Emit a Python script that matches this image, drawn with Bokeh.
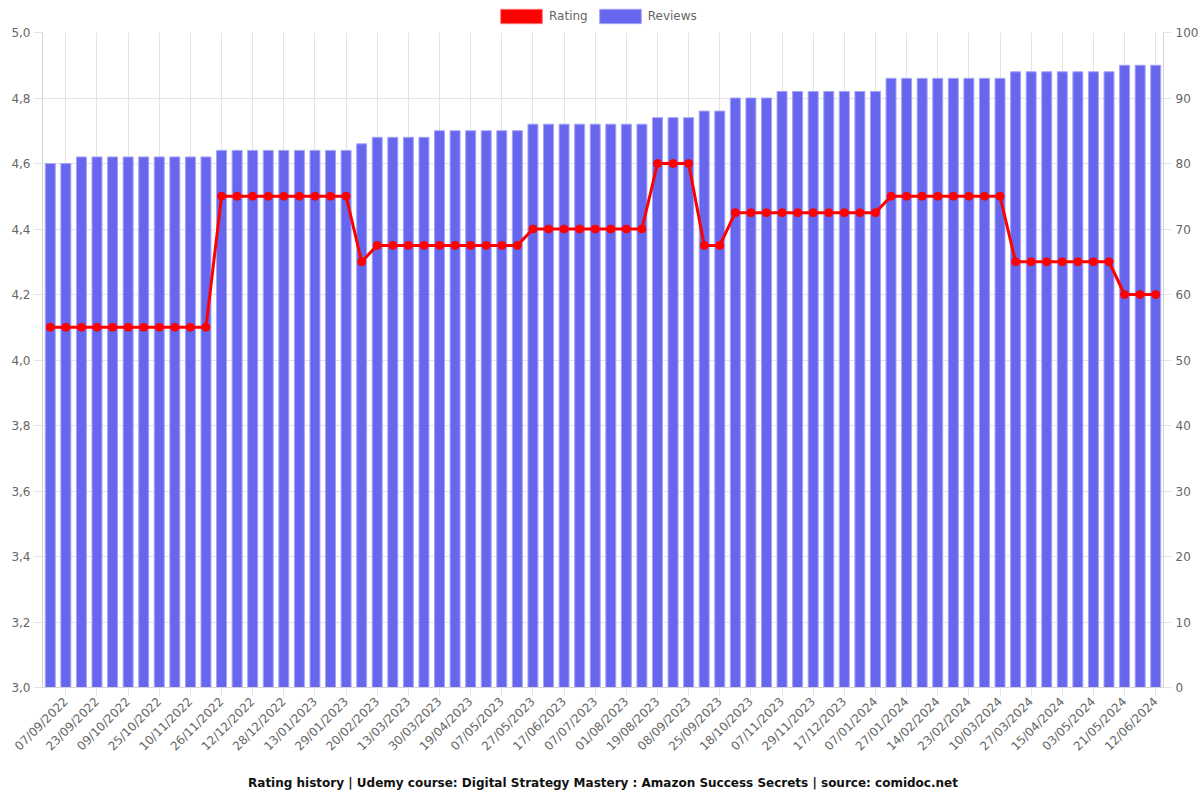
import math
from bokeh.plotting import figure
from bokeh.layouts import column
from bokeh.models import (Range1d, LinearAxis, FixedTicker, CustomJSTickFormatter,
                          Legend, LegendItem, ColumnDataSource, Title)
from bokeh.embed import file_html
from bokeh.resources import INLINE

# ---- data ----
tick_dates = ["07/09/2022", "23/09/2022", "09/10/2022", "25/10/2022", "10/11/2022",
              "26/11/2022", "12/12/2022", "28/12/2022", "13/01/2023", "29/01/2023",
              "20/02/2023", "13/03/2023", "30/03/2023", "19/04/2023", "07/05/2023",
              "27/05/2023", "17/06/2023", "07/07/2023", "01/08/2023", "19/08/2023",
              "08/09/2023", "25/09/2023", "18/10/2023", "07/11/2023", "29/11/2023",
              "17/12/2023", "07/01/2024", "27/01/2024", "14/02/2024", "23/02/2024",
              "10/03/2024", "27/03/2024", "15/04/2024", "03/05/2024", "21/05/2024",
              "12/06/2024"]

reviews = [80, 80,
           81, 81, 81, 81, 81, 81, 81, 81, 81,
           82, 82, 82, 82, 82, 82, 82, 82, 82,
           83,
           84, 84, 84, 84,
           85, 85, 85, 85, 85, 85,
           86, 86, 86, 86, 86, 86, 86, 86,
           87, 87, 87,
           88, 88,
           90, 90, 90,
           91, 91, 91, 91, 91, 91, 91,
           93, 93, 93, 93, 93, 93, 93, 93,
           94, 94, 94, 94, 94, 94, 94,
           95, 95, 95]

ratings = [4.1, 4.1, 4.1, 4.1, 4.1, 4.1, 4.1, 4.1, 4.1, 4.1, 4.1,
           4.5, 4.5, 4.5, 4.5, 4.5, 4.5, 4.5, 4.5, 4.5,
           4.3,
           4.35, 4.35, 4.35, 4.35, 4.35, 4.35, 4.35, 4.35, 4.35, 4.35,
           4.4, 4.4, 4.4, 4.4, 4.4, 4.4, 4.4, 4.4,
           4.6, 4.6, 4.6,
           4.35, 4.35,
           4.45, 4.45, 4.45, 4.45, 4.45, 4.45, 4.45, 4.45, 4.45, 4.45,
           4.5, 4.5, 4.5, 4.5, 4.5, 4.5, 4.5, 4.5,
           4.3, 4.3, 4.3, 4.3, 4.3, 4.3, 4.3,
           4.2, 4.2, 4.2]

n = len(reviews)
idx = list(range(n))
tick_idx = list(range(1, n, 2))  # labelled positions (every second bar)

src = ColumnDataSource(dict(x=idx, reviews=reviews, rating=ratings))

GRID = "#e3e3e3"
AXIS = "#d4d4d4"
TXT = "#666666"
FONT = "DejaVu Sans"
BAR_FILL = "#6666ee"
BAR_LINE = "#a4a4f6"
RED = "#ff0000"

# ---- legend strip (top) ----
lg = figure(width=1200, height=26, output_backend="svg", toolbar_location=None,
            x_range=Range1d(0, 1), y_range=Range1d(0, 1),
            x_axis_location=None, y_axis_location=None,
            min_border=0, min_border_left=0, min_border_right=0,
            min_border_top=0, min_border_bottom=0)
lg.outline_line_color = None
lg.xgrid.visible = False
lg.ygrid.visible = False
sw_src = ColumnDataSource(dict(x=[0.5], top=[float("nan")]))
sw_red = lg.vbar(x="x", top="top", width=0.1, source=sw_src,
                 fill_color=RED, line_color="#ff7777")
sw_blue = lg.vbar(x="x", top="top", width=0.1, source=sw_src,
                  fill_color=BAR_FILL, line_color=BAR_LINE)
leg = Legend(items=[LegendItem(label="Rating", renderers=[sw_red]),
                    LegendItem(label="Reviews", renderers=[sw_blue])],
             orientation="horizontal", location=(453, 1),
             label_text_font=FONT, label_text_font_size="12px",
             label_text_color=TXT, glyph_width=52, glyph_height=18,
             spacing=6, padding=0, margin=0, label_standoff=2,
             label_height=18,
             border_line_color=None, background_fill_alpha=0)
lg.add_layout(leg, "center")

# ---- main chart ----
p = figure(frame_width=1121, frame_height=655, output_backend="svg", toolbar_location=None,
           x_range=Range1d(-0.5, n - 0.5), y_range=Range1d(3.0, 5.0),
           min_border_left=42, min_border_right=37, min_border_top=6,
           min_border_bottom=113)
p.outline_line_color = None
p.background_fill_color = "white"
p.extra_y_ranges = {"rev": Range1d(0, 100)}

bars = p.vbar(x="x", top="reviews", bottom=0, width=0.64, source=src,
              y_range_name="rev", fill_color=BAR_FILL, line_color=BAR_LINE,
              line_width=1)
line = p.line(x="x", y="rating", source=src, line_color=RED, line_width=3)
pts = p.scatter(x="x", y="rating", source=src, size=8, fill_color=RED,
                line_color=RED)

# x axis
xa = p.xaxis[0]
xa.ticker = FixedTicker(ticks=tick_idx)
xa.major_label_overrides = {i: d for i, d in zip(tick_idx, tick_dates)}
xa.major_label_orientation = math.pi / 4
xa.minor_tick_line_color = None
xa.major_tick_out = 8
xa.major_tick_in = 0
xa.major_tick_line_color = GRID
xa.axis_line_color = AXIS
xa.major_label_text_font = FONT
xa.major_label_text_font_size = "12px"
xa.major_label_text_color = TXT
xa.major_label_standoff = 4

# left axis
ya = p.yaxis[0]
ya.ticker = FixedTicker(ticks=[3.0, 3.2, 3.4, 3.6, 3.8, 4.0, 4.2, 4.4, 4.6, 4.8, 5.0])
ya.formatter = CustomJSTickFormatter(code="return tick.toFixed(1).replace('.', ',');")
ya.minor_tick_line_color = None
ya.major_tick_out = 8
ya.major_tick_in = 0
ya.major_tick_line_color = GRID
ya.axis_line_color = AXIS
ya.major_label_text_font = FONT
ya.major_label_text_font_size = "12px"
ya.major_label_text_color = TXT
ya.major_label_standoff = 4

# right axis
ra = LinearAxis(y_range_name="rev",
                ticker=FixedTicker(ticks=[0, 10, 20, 30, 40, 50, 60, 70, 80, 90, 100]))
ra.minor_tick_line_color = None
ra.major_tick_out = 8
ra.major_tick_in = 0
ra.major_tick_line_color = GRID
ra.axis_line_color = AXIS
ra.major_label_text_font = FONT
ra.major_label_text_font_size = "12px"
ra.major_label_text_color = TXT
ra.major_label_standoff = 4
p.add_layout(ra, "right")

p.xgrid.grid_line_color = GRID
p.ygrid.grid_line_color = GRID

title = Title(text="Rating history | Udemy course: Digital Strategy Mastery : Amazon Success Secrets | source: comidoc.net",
              align="center", text_font=FONT, text_font_size="12px",
              text_font_style="bold", text_color="#111111", standoff=24)
p.add_layout(title, "below")

layout = column(lg, p, spacing=0)
open("out.html", "w").write(file_html(layout, INLINE))
